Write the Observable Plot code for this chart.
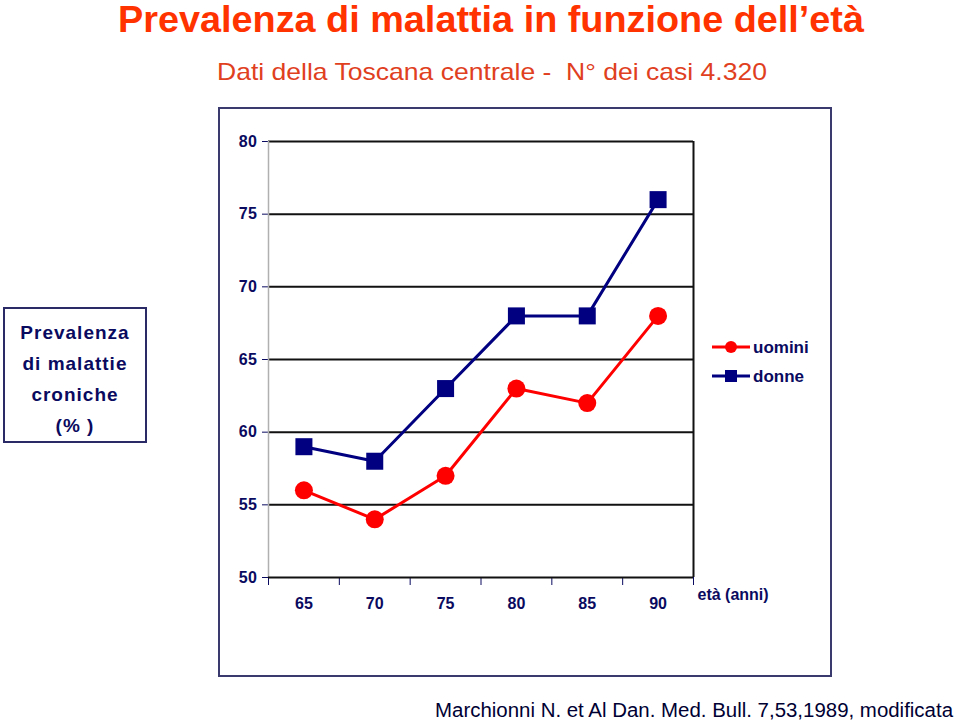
<!DOCTYPE html>
<html><head><meta charset="utf-8">
<script src="https://cdn.jsdelivr.net/npm/d3@7"></script>
<script src="https://cdn.jsdelivr.net/npm/@observablehq/plot@0.6"></script>
<style>
body{margin:0;background:#fff;}
#page{position:relative;width:960px;height:725px;overflow:hidden;font-family:Arial,"Liberation Sans",sans-serif;}
#page > *{position:absolute;}
#frame{left:218px;top:107px;width:610px;height:566px;border:2px solid #3a3a6e;}
#ylab{left:3px;top:307px;width:140px;height:124px;border:2px solid #2a2a66;color:#0a0a60;font-weight:bold;font-size:19px;letter-spacing:1px;text-align:center;line-height:31px;padding-top:8px;box-sizing:content-box;}
#plot{left:0;top:0;}
#legend{left:700px;top:333px;}
#texts{left:0;top:0;pointer-events:none;}
#plot g[aria-label^="y-axis"] text{letter-spacing:0.5px;}
</style></head><body><div id="page"></div>
<script>
// ---- data ----
const ages = [65, 70, 75, 80, 85, 90];
const uomini = [56, 54, 57, 63, 62, 68];
const donne = [59, 58, 63, 68, 68, 76];
const yTicks = [50, 55, 60, 65, 70, 75, 80];
const seriesNames = ["uomini", "donne"];
const seriesColors = ["#ff0000", "#000080"];
const titleText = "Prevalenza di malattia in funzione dell\u2019et\u00e0";
const subtitleText = "Dati della Toscana centrale -  N\u00b0 dei casi 4.320";
const captionText = "Marchionni N. et Al Dan. Med. Bull. 7,53,1989, modificata";
const yLabelLines = ["Prevalenza", "di malattie", "croniche", "(% )"];
const xLabelText = "et\u00e0 (anni)";

const page = document.getElementById("page");

// outer frame
const frame = document.createElement("div"); frame.id = "frame"; page.appendChild(frame);

// y label box
const ylab = document.createElement("div"); ylab.id = "ylab";
ylab.innerHTML = yLabelLines.map(s => `<div>${s}</div>`).join("");
page.appendChild(ylab);

const half = (ages[1] - ages[0]) / 2;
const xDomain = [ages[0] - half, ages[ages.length - 1] + half];
const edges = ages.map(a => a - half).concat([xDomain[1]]);
const rowsU = ages.map((a, i) => ({age: a, v: uomini[i]}));
const rowsD = ages.map((a, i) => ({age: a, v: donne[i]}));
const navy = "#0a0a60";

const chart = Plot.plot({
  width: 960, height: 725,
  marginLeft: 268, marginRight: 267, marginTop: 141, marginBottom: 148,
  style: {fontFamily: "Arial, 'Liberation Sans', sans-serif", fontSize: "16px", fontWeight: "bold", color: navy, background: "transparent", overflow: "visible"},
  x: {type: "linear", domain: xDomain, ticks: edges, tickSize: 8, tickFormat: () => "", label: null},
  y: {domain: [yTicks[0], yTicks[yTicks.length - 1]], ticks: yTicks, tickSize: 6, tickPadding: 5, tickFormat: d => String(d), label: null},
  marks: [
    Plot.ruleY(yTicks.slice(1), {stroke: "#111", strokeWidth: 2}),
    Plot.ruleX([xDomain[0]], {stroke: "#b0b0b0", strokeWidth: 1.5}),
    Plot.ruleX([xDomain[1]], {stroke: "#111", strokeWidth: 2}),
    Plot.ruleY([yTicks[0]], {stroke: "#111", strokeWidth: 2}),
    Plot.line(rowsU, {x: "age", y: "v", stroke: seriesColors[0], strokeWidth: 3}),
    Plot.line(rowsD, {x: "age", y: "v", stroke: seriesColors[1], strokeWidth: 3}),
    Plot.dot(rowsU, {x: "age", y: "v", fill: seriesColors[0], r: 9, symbol: "circle"}),
    Plot.dot(rowsD, {x: "age", y: "v", fill: seriesColors[1], r: 9.6, symbol: "square"}),
    Plot.text(ages, {x: d => d, y: yTicks[0], dy: 26, text: d => String(d), fill: navy, fontSize: 16, fontWeight: "bold", style: "letter-spacing:1px"}),
    Plot.text([xLabelText], {x: xDomain[1], y: yTicks[0], dx: 4, dy: 17, text: d => d, textAnchor: "start", fill: navy, fontSize: 16, fontWeight: "bold", style: "letter-spacing:1.5px"})
  ]
});
chart.id = "plot";
page.appendChild(chart);

// legend
const leg = d3.create("svg").attr("id", "legend").attr("width", 130).attr("height", 60);
seriesNames.forEach((name, i) => {
  const g = leg.append("g").attr("transform", `translate(0,${14 + i * 29})`);
  g.append("line").attr("x1", 12).attr("x2", 50).attr("stroke", seriesColors[i]).attr("stroke-width", 3);
  if (i === 0) g.append("circle").attr("cx", 31).attr("r", 6).attr("fill", seriesColors[i]);
  else g.append("rect").attr("x", 25).attr("y", -6).attr("width", 12).attr("height", 12).attr("fill", seriesColors[i]);
  g.append("text").attr("x", 53).attr("y", 6).attr("fill", navy).attr("font-size", 17).attr("font-weight", "bold")
    .attr("font-family", "Arial, 'Liberation Sans', sans-serif").text(name);
});
page.appendChild(leg.node());

// titles
const t = d3.create("svg").attr("id", "texts").attr("width", 960).attr("height", 725);
t.append("text").attr("x", 118).attr("y", 32).attr("textLength", 746).attr("lengthAdjust", "spacingAndGlyphs")
  .attr("font-family", "'Liberation Sans Narrow', 'Arial Narrow', Arial, sans-serif").attr("font-weight", "bold").attr("font-size", 36)
  .attr("fill", "#ff3300").text(titleText);
t.append("text").attr("x", 217).attr("y", 80).attr("textLength", 550).attr("lengthAdjust", "spacingAndGlyphs")
  .attr("font-family", "'Liberation Sans Narrow', 'Arial Narrow', Arial, sans-serif").attr("font-size", 24)
  .style("white-space", "pre").attr("xml:space", "preserve")
  .attr("fill", "#e0401e").text(subtitleText);
t.append("text").attr("x", 435).attr("y", 717).attr("textLength", 518).attr("lengthAdjust", "spacingAndGlyphs")
  .attr("font-family", "Arial, 'Liberation Sans', sans-serif").attr("font-size", 20)
  .attr("fill", "#000033").text(captionText);
page.appendChild(t.node());
</script></body></html>
